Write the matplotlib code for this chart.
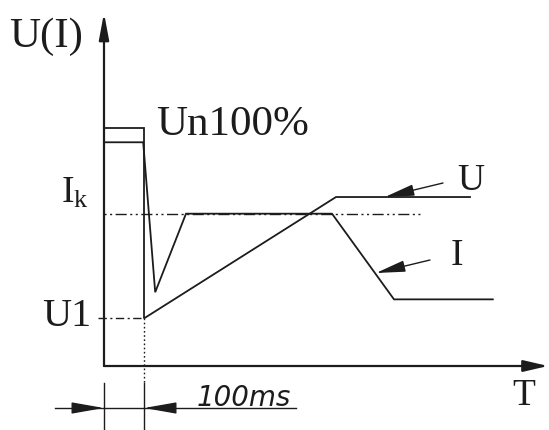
import matplotlib
matplotlib.use("Agg")
import matplotlib.pyplot as plt

plt.rcParams['mathtext.fontset'] = 'custom'
plt.rcParams['mathtext.rm'] = 'Liberation Serif'
plt.rcParams['mathtext.it'] = 'Liberation Serif:italic'

# ---- data (time in ms, value in % of Un) ----
u_time = [0, 100, 100, 580, 915]
u_value = [100, 100, 20, 71, 71]
i_time = [0, 98, 128, 205, 570, 725, 972]
i_value = [94, 94, 31, 64, 64, 28, 28]
ik_level = 64
ik_end = 790
u1_level = 20
step_time = 100

# ---- figure geometry (pixel mapping) ----
W, H = 549, 430
X0, Y0 = 104, 366          # origin in pixels
SX, SY = 0.4, 2.38         # px per ms, px per %

def P(px, py):
    return ((px - X0) / SX, (Y0 - py) / SY)

fig = plt.figure(figsize=(W / 100, H / 100), dpi=100)
ax = fig.add_axes([0, 0, 1, 1])
ax.set_xlim(-X0 / SX, (W - X0) / SX)
ax.set_ylim((Y0 - H) / SY, Y0 / SY)
ax.axis('off')

C = '#1c1c1c'
serif = ['Liberation Serif', 'DejaVu Serif']

# axes with arrows
ax.annotate('', xy=P(X0, 13), xytext=(0, 0),
            arrowprops=dict(arrowstyle='-|>,head_length=1.6,head_width=0.3',
                            mutation_scale=10, color=C, lw=1.6, shrinkA=0, shrinkB=0))
ax.annotate('', xy=P(548, Y0), xytext=(0, 0),
            arrowprops=dict(arrowstyle='-|>,head_length=1.5,head_width=0.35',
                            mutation_scale=10, color=C, lw=1.6, shrinkA=0, shrinkB=0))

# curves
ax.plot(u_time, u_value, color=C, lw=1.3, solid_joinstyle='miter')
ax.plot(i_time, i_value, color=C, lw=1.3, solid_joinstyle='miter')

# reference lines
ax.plot([0, ik_end], [ik_level, ik_level], color=C, lw=1.0,
        linestyle=(0, (1.5, 2.5, 1.5, 2.5, 8, 2.5)))
ax.plot([P(98, 0)[0], step_time], [u1_level, u1_level], color=C, lw=1.0,
        linestyle=(0, (6, 2.5, 1.5, 2.5)))
ax.plot([step_time, step_time], [u1_level, P(0, 383)[1]], color=C, lw=1.0,
        linestyle=(0, (1.2, 1.8)))

# dimension (100 ms)
y_ext0, y_ext1 = P(0, 383)[1], P(0, 430)[1]
for t in (0, step_time):
    ax.plot([t, t], [y_ext0, y_ext1], color=C, lw=1.0)
y_dim = P(0, 408)[1]
ax.plot([P(55, 0)[0], P(296, 0)[0]], [y_dim, y_dim], color=C, lw=1.0)
dim_arrow = dict(arrowstyle='-|>,head_length=2.0,head_width=0.35',
                 mutation_scale=10, color=C, lw=1.0, shrinkA=0, shrinkB=0)
ax.annotate('', xy=(0, y_dim), xytext=(P(77, 0)[0], y_dim), arrowprops=dim_arrow)
ax.annotate('', xy=(step_time, y_dim), xytext=(P(171, 0)[0], y_dim), arrowprops=dim_arrow)
ax.text(*P(197, 406), '100ms', fontsize=20, style='italic',
        family=['DejaVu Sans'], color=C, ha='left', va='baseline')

# label arrows
lab_arrow = dict(arrowstyle='-|>,head_length=1.8,head_width=0.35',
                 mutation_scale=10, color=C, lw=1.0, shrinkA=0, shrinkB=0)
ax.annotate('', xy=P(385, 197), xytext=P(443, 183), arrowprops=lab_arrow)
ax.annotate('', xy=P(376, 273), xytext=P(430, 260), arrowprops=lab_arrow)

# texts
ax.text(*P(9, 47), 'U(I)', fontsize=31, family=serif, color=C, ha='left', va='baseline')
ax.text(*P(156, 135), 'Un100%', fontsize=31, family=serif, color=C, ha='left', va='baseline')
ax.text(*P(61, 203), r'$\mathrm{I}_{\mathrm{k}}$', fontsize=27, color=C, ha='left', va='baseline')
ax.text(*P(42, 326), 'U1', fontsize=29, family=serif, color=C, ha='left', va='baseline')
ax.text(*P(471, 190), 'U', fontsize=27, family=serif, color=C, ha='center', va='baseline')
ax.text(*P(457, 265), 'I', fontsize=27, family=serif, color=C, ha='center', va='baseline')
ax.text(*P(524, 405), 'T', fontsize=27, family=serif, color=C, ha='center', va='baseline')

fig.savefig('out.png', dpi=100)
